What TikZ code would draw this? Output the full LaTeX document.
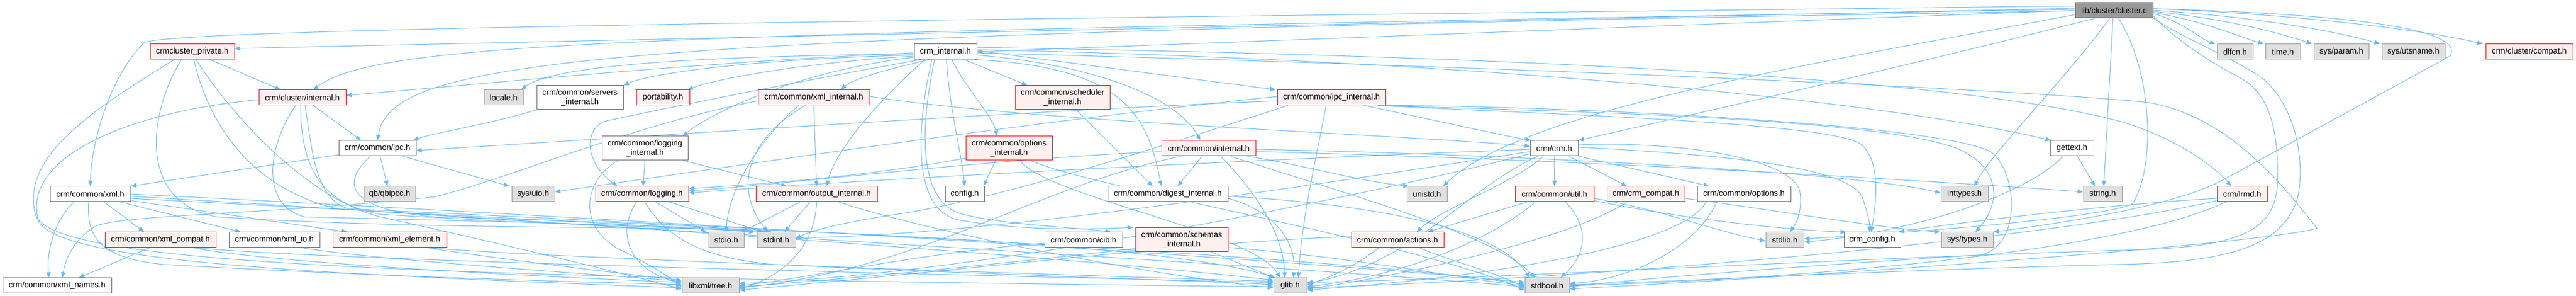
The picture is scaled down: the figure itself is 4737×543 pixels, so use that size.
\documentclass[tikz,border=0pt]{standalone}
\usepackage{fontspec}
\setmainfont{Liberation Sans}
\usetikzlibrary{arrows.meta}
\pgfdeclarelayer{bg}
\pgfsetlayers{bg,main}
\definecolor{edgeblue}{HTML}{63B8FF}
\definecolor{nodegray}{HTML}{666666}
\definecolor{sysfill}{HTML}{E0E0E0}
\definecolor{sysdraw}{HTML}{999999}
\definecolor{redfill}{HTML}{FFF0F0}
\definecolor{reddraw}{HTML}{FF0000}
\definecolor{rootfill}{HTML}{999999}
\tikzset{
  basenode/.style={draw, line width=1pt, minimum height=28pt, inner sep=0pt, align=center,
    font=\fontsize{14.8}{17}\selectfont, text=black},
  wnode/.style={basenode, fill=white, draw=nodegray},
  gnode/.style={basenode, fill=sysfill, draw=sysdraw},
  rnode/.style={basenode, fill=redfill, draw=reddraw},
  rootnode/.style={basenode, fill=rootfill, draw=nodegray},
  tallnode/.style={minimum height=44pt},
  dep/.style={draw=edgeblue, line width=1pt, -{Triangle[length=10pt,width=8pt]}},
}
\begin{document}
\begin{tikzpicture}[x=1pt,y=1pt]
\useasboundingbox (0,0) rectangle (4737,543);
% row 0
\node[rootnode, minimum width=143pt] (R) at (3887.5,524) {lib/cluster/cluster.c};
% row 1
\node[rnode, minimum width=155pt] (cp) at (353.5,448) {crmcluster\_private.h};
\node[wnode, minimum width=115pt] (ci) at (1738.5,448) {crm\_internal.h};
\node[gnode, minimum width=66pt] (dlfcn) at (4110,448) {dlfcn.h};
\node[gnode, minimum width=64pt] (time) at (4198,448) {time.h};
\node[gnode, minimum width=101pt] (sysparam) at (4305.5,448) {sys/param.h};
\node[gnode, minimum width=116pt] (utsname) at (4438,448) {sys/utsname.h};
\node[rnode, minimum width=160pt] (clcompat) at (4651,448) {crm/cluster/compat.h};
% row 2
\node[rnode, minimum width=160pt] (cli) at (556,364) {crm/cluster/internal.h};
\node[gnode, minimum width=72pt] (locale) at (926,364) {locale.h};
\node[wnode, tallnode, minimum width=159pt] (servers) at (1066.5,364) {crm/common/servers\\\_internal.h};
\node[rnode, minimum width=98pt] (portability) at (1219,364) {portability.h};
\node[rnode, minimum width=205pt] (xmlint) at (1496.5,364) {crm/common/xml\_internal.h};
\node[rnode, tallnode, minimum width=174pt] (sched) at (1954,364) {crm/common/scheduler\\\_internal.h};
\node[rnode, minimum width=199pt] (ipcint) at (2448.5,364) {crm/common/ipc\_internal.h};
% row 3
\node[wnode, minimum width=142pt] (ipc) at (694,271) {crm/common/ipc.h};
\node[wnode, tallnode, minimum width=158pt] (logint) at (1186,271) {crm/common/logging\\\_internal.h};
\node[rnode, tallnode, minimum width=159pt] (optint) at (1855.5,271) {crm/common/options\\\_internal.h};
\node[rnode, minimum width=173pt] (cmnint) at (2222.5,271) {crm/common/internal.h};
\node[wnode, minimum width=88pt] (crm) at (2858,271) {crm/crm.h};
\node[wnode, minimum width=80pt] (gettext) at (3810,271) {gettext.h};
% row 4
\node[wnode, minimum width=148pt] (xml) at (166,187) {crm/common/xml.h};
\node[gnode, minimum width=95pt] (qb) at (716.5,187) {qb/qbipcc.h};
\node[gnode, minimum width=79pt] (uio) at (980.5,187) {sys/uio.h};
\node[rnode, minimum width=171pt] (logging) at (1180.5,187) {crm/common/logging.h};
\node[rnode, minimum width=223pt] (outint) at (1501.5,187) {crm/common/output\_internal.h};
\node[wnode, minimum width=72pt] (config) at (1774,187) {config.h};
\node[wnode, minimum width=221pt] (digest) at (2147.5,187) {crm/common/digest\_internal.h};
\node[gnode, minimum width=74pt] (unistd) at (2624,187) {unistd.h};
\node[rnode, minimum width=145pt] (util) at (2858.5,187) {crm/common/util.h};
\node[rnode, minimum width=143pt] (compat) at (3026.5,187) {crm/crm\_compat.h};
\node[wnode, minimum width=172pt] (options) at (3207,187) {crm/common/options.h};
\node[gnode, minimum width=87pt] (inttypes) at (3612.5,187) {inttypes.h};
\node[gnode, minimum width=71pt] (string) at (3866.5,187) {string.h};
\node[rnode, minimum width=92pt] (lrmd) at (4123,187) {crm/lrmd.h};
% row 5
\node[rnode, minimum width=204pt] (xmlcompat) at (295,103) {crm/common/xml\_compat.h};
\node[wnode, minimum width=167pt] (xmlio) at (504.5,103) {crm/common/xml\_io.h};
\node[rnode, minimum width=209pt] (xmlelem) at (716.5,103) {crm/common/xml\_element.h};
\node[gnode, minimum width=65pt] (stdio) at (1335.5,103) {stdio.h};
\node[gnode, minimum width=71pt] (stdint) at (1427.5,103) {stdint.h};
\node[wnode, minimum width=143pt] (cib) at (1992.5,103) {crm/common/cib.h};
\node[rnode, tallnode, minimum width=170pt] (schemas) at (2173,103) {crm/common/schemas\\\_internal.h};
\node[rnode, minimum width=170pt] (actions) at (2570,103) {crm/common/actions.h};
\node[gnode, minimum width=70pt] (stdlib) at (3282,103) {stdlib.h};
\node[wnode, minimum width=104pt] (crmconfig) at (3443,103) {crm\_config.h};
\node[gnode, minimum width=95pt] (systypes) at (3617.5,103) {sys/types.h};
% row 6
\node[wnode, minimum width=200pt] (xmlnames) at (105,19) {crm/common/xml\_names.h};
\node[gnode, minimum width=105pt] (libxml) at (1306.5,19) {libxml/tree.h};
\node[gnode, minimum width=61pt] (glib) at (2372.5,19) {glib.h};
\node[gnode, minimum width=82pt] (stdbool) at (2845,19) {stdbool.h};

\begin{pgfonlayer}{bg}
\fill[white] (0,0) rectangle (4737,543);
% ---- root
\draw[dep] (R.west) -- (ci.east);
\draw[dep] ([yshift=-6pt]R.east) .. controls (4010,505) and (4050,470) .. ([xshift=-3pt]dlfcn.north west);
\draw[dep] ([yshift=-4pt]R.east) .. controls (4050,505) and (4120,475) .. ([xshift=-3pt]time.north west);
\draw[dep] ([yshift=-2pt]R.east) .. controls (4100,508) and (4200,480) .. ([xshift=-3pt]sysparam.north west);
\draw[dep] (R.east) .. controls (4150,512) and (4300,485) .. ([xshift=-3pt]utsname.north west);
\draw[dep] ([yshift=3pt]R.east) .. controls (4200,518) and (4450,490) .. ([xshift=-5pt]clcompat.north west);
\draw[dep] ([yshift=4pt]R.west) -- ([yshift=6pt]cp.east);
\draw[dep] ([yshift=2pt]R.west) .. controls (1200,480) and (700,470) .. ([xshift=20pt]cli.north);
\draw[dep] ([yshift=-1pt]R.west) .. controls (1100,478) and (720,440) .. (ipc.north);
\draw[dep] ([yshift=8pt]R.west) .. controls (1500,505) and (330,490) .. (265,465) .. controls (200,400) and (168,280) .. (xml.north);
\draw[dep] ([xshift=-35pt]R.south) .. controls (3500,420) and (3100,330) .. (crm.north east);
\draw[dep] ([yshift=-8pt]R.west) .. controls (3300,420) and (2800,340) .. ([xshift=-8pt]unistd.north east);
\draw[dep] ([xshift=-8pt]R.south) .. controls (3800,400) and (3660,260) .. ([xshift=18pt]inttypes.north);
\draw[dep] ([xshift=-2pt]R.south) -- ([xshift=2pt]string.north);
\draw[dep] ([xshift=8pt]R.south) .. controls (3965,400) and (3960,220) .. (3920,168) .. controls (3850,140) and (3450,112) .. ([yshift=2pt]stdlib.east);
\draw[dep] ([yshift=3pt]R.east) .. controls (4400,515) and (4530,480) .. (4505,440) -- (4090,214) .. controls (4000,165) and (3800,135) .. (systypes.north east);
\draw[dep] ([yshift=-10pt]R.east) .. controls (4000,470) and (4070,425) .. (4120,400) .. controls (4175,370) and (4190,300) .. (4188,210) .. controls (4186,110) and (4100,88) .. (3900,84) .. controls (3300,65) and (2700,30) .. ([yshift=6pt]glib.east);
\draw[dep] ([yshift=-14pt]R.east) .. controls (4000,480) and (4100,440) .. (4160,400) .. controls (4220,350) and (4240,250) .. (4225,180) .. controls (4200,100) and (4120,62) .. (3900,58) .. controls (3400,45) and (3050,25) .. ([yshift=2pt]stdbool.east);
% ---- crm_internal.h
\draw[dep] ([yshift=-4pt]ci.west) .. controls (1300,440) and (1020,425) .. ([xshift=-4pt]locale.north east);
\draw[dep] ([yshift=-6pt]ci.west) .. controls (1400,435) and (1200,410) .. (servers.north east);
\draw[dep] ([yshift=-8pt]ci.west) .. controls (1500,430) and (1320,400) .. ([xshift=-4pt]portability.north east);
\draw[dep] ([yshift=-2pt]ci.west) .. controls (1300,430) and (900,390) .. ([yshift=4pt]cli.east);
\draw[dep] ([xshift=-30pt]ci.south) .. controls (1650,420) and (1570,400) .. ([xshift=50pt]xmlint.north);
\draw[dep] ([yshift=-10pt]ci.west) .. controls (1450,410) and (1300,330) .. ([xshift=-10pt]logint.north east);
\draw[dep] ([xshift=-45pt]ci.south) .. controls (1500,400) and (1200,340) .. (1110,320) .. controls (1070,300) and (1080,240) .. ([xshift=-45pt]logging.north);
\draw[dep] ([xshift=-38pt]ci.south) .. controls (1640,380) and (1540,280) .. ([xshift=18pt]outint.north);
\draw[dep] ([xshift=2pt]ci.south) .. controls (1745,350) and (1768,260) .. (config.north);
\draw[dep] ([xshift=12pt]ci.south) .. controls (1770,390) and (1825,330) .. ([xshift=-22pt]optint.north);
\draw[dep] ([xshift=35pt]ci.south) -- ([xshift=-65pt]sched.north);
\draw[dep] ([xshift=55pt]ci.south) .. controls (2070,420) and (2110,330) .. ([xshift=-12pt]digest.north);
\draw[dep] ([yshift=-6pt]ci.east) .. controls (2000,425) and (2160,370) .. ([xshift=-15pt]cmnint.north);
\draw[dep] ([yshift=2pt]ci.east) -- ([xshift=-3pt]ipcint.north west);
\draw[dep] ([yshift=4pt]ci.east) .. controls (2800,430) and (3500,350) .. ([xshift=2pt]gettext.north west);
\draw[dep] ([yshift=8pt]ci.east) .. controls (2800,440) and (3600,400) .. (3900,320) .. controls (4000,290) and (4070,240) .. ([xshift=-20pt]lrmd.north);
\draw[dep] ([yshift=-2pt]ci.east) .. controls (2800,420) and (3700,380) .. (3950,355) .. controls (4100,330) and (4200,200) .. (4261,124) .. controls (4150,95) and (3400,40) .. ([yshift=-6pt]stdbool.east);
\draw[dep] ([xshift=-20pt]ci.south) .. controls (1690,300) and (1690,170) .. (1770,150) .. controls (1850,130) and (1990,125) .. ([xshift=50pt]cib.north);
\draw[dep] ([xshift=-25pt]ci.south) .. controls (1683,300) and (1680,160) .. (1760,140) .. controls (1900,115) and (2050,125) .. ([xshift=-4pt]schemas.north west);
% ---- crmcluster_private.h
\draw[dep] ([xshift=33pt]cp.south) -- ([xshift=-40pt]cli.north);
\draw[dep] ([xshift=-33pt]cp.south) .. controls (150,330) and (40,250) .. (65,150) .. controls (90,60) and (700,35) .. ([yshift=-2pt]glib.west);
\draw[dep] ([xshift=-20pt]cp.south) .. controls (270,330) and (255,170) .. (400,145) .. controls (800,120) and (1250,130) .. ([xshift=-8pt]stdint.north);
\draw[dep] ([xshift=3pt]cp.south) .. controls (380,330) and (450,200) .. (620,160) .. controls (1200,120) and (2300,60) .. ([yshift=-2pt]stdbool.west);
\draw[dep] ([xshift=7pt]cp.south) .. controls (420,340) and (560,180) .. (700,145) .. controls (950,90) and (1150,40) .. ([yshift=-6pt]libxml.west);
% ---- crm/cluster/internal.h
\draw[dep] ([xshift=20pt]cli.south) -- ([xshift=-30pt]ipc.north);
\draw[dep] ([yshift=-4pt]cli.west) .. controls (250,340) and (40,260) .. (70,140) .. controls (100,60) and (600,40) .. ([yshift=-4pt]libxml.west);
\draw[dep] ([xshift=-12pt]cli.south) .. controls (500,290) and (470,170) .. (560,145) .. controls (1200,130) and (2100,110) .. ([xshift=4pt]glib.north west);
\draw[dep] ([xshift=-3pt]cli.south) .. controls (553,250) and (580,170) .. (700,150) .. controls (1000,130) and (1300,125) .. ([xshift=-12pt]stdint.north);
\draw[dep] ([xshift=5pt]cli.south) .. controls (575,260) and (580,180) .. (640,160) .. controls (1400,125) and (2500,70) .. ([yshift=2pt]stdbool.west);
% ---- crm/common/ipc.h
\draw[dep] ([yshift=-12pt]ipc.west) -- (xml.north east);
\draw[dep] ([xshift=5pt]ipc.south) -- ([xshift=-4pt]qb.north);
\draw[dep] ([xshift=46pt]ipc.south) -- ([xshift=-4pt]uio.north west);
\draw[dep] ([xshift=-13pt]ipc.south) .. controls (630,210) and (630,160) .. (800,145) .. controls (1000,140) and (1300,130) .. ([xshift=-22pt]stdint.north);
% ---- crm/common/xml.h
\draw[dep] ([xshift=-30pt]xml.south) .. controls (100,140) and (85,80) .. ([xshift=-15pt]xmlnames.north);
\draw[dep] ([xshift=25pt]xml.south) -- ([xshift=-30pt]xmlcompat.north);
\draw[dep] ([xshift=55pt]xml.south) -- ([xshift=-62pt]xmlio.north);
\draw[dep] ([yshift=-12pt]xml.east) -- ([xshift=-78pt]xmlelem.north);
\draw[dep] ([xshift=-3pt]xml.south) .. controls (160,120) and (170,70) .. (300,58) .. controls (700,35) and (1100,25) .. ([yshift=2pt]libxml.west);
\draw[dep] ([yshift=-8pt]xml.east) .. controls (600,160) and (1100,135) .. ([xshift=-4pt]stdint.north west);
\draw[dep] ([yshift=-4pt]xml.east) .. controls (800,150) and (1900,80) .. ([yshift=10pt]glib.west);
\draw[dep] (xml.east) .. controls (900,155) and (2300,75) .. ([yshift=6pt]stdbool.west);
% ---- xml sub-headers
\draw[dep] ([xshift=-20pt]xmlcompat.south) -- ([xshift=40pt]xmlnames.north);
\draw[dep] ([xshift=60pt]xmlcompat.south) .. controls (500,60) and (1000,35) .. ([yshift=6pt]libxml.west);
\draw[dep] ([xshift=65pt]xmlcompat.south) .. controls (600,65) and (1700,40) .. ([yshift=6pt]glib.west);
\draw[dep] ([xshift=50pt]xmlio.south) .. controls (700,65) and (1100,40) .. ([yshift=8pt]libxml.west);
\draw[dep] ([xshift=70pt]xmlelem.south) .. controls (900,70) and (1150,40) .. ([yshift=10pt]libxml.west);
\draw[dep] ([xshift=72pt]xmlelem.south) .. controls (1000,70) and (1900,40) .. ([yshift=8pt]glib.west);
% ---- servers / ipc_internal
\draw[dep] (servers.south west) .. controls (900,315) and (800,300) .. ([xshift=-6pt]ipc.north east);
\draw[dep] ([yshift=-6pt]ipcint.west) .. controls (1900,340) and (1300,300) .. ([yshift=-4pt]ipc.east);
\draw[dep] ([yshift=2pt]ipcint.west) .. controls (1900,320) and (1500,260) .. ([yshift=4pt]uio.east);
\draw[dep] ([xshift=60pt]ipcint.south) .. controls (2650,320) and (2760,295) .. ([xshift=2pt]crm.north west);
\draw[dep] ([xshift=-80pt]ipcint.south) .. controls (2150,280) and (1850,180) .. (1650,150) .. controls (1550,135) and (1490,120) .. ([yshift=2pt]stdint.east);
\draw[dep] ([xshift=-10pt]ipcint.south) .. controls (2420,250) and (2395,150) .. ([xshift=15pt]glib.north);
\draw[dep] ([xshift=90pt]ipcint.south) .. controls (2800,340) and (3450,330) .. (3600,270) .. controls (3680,235) and (3680,170) .. ([xshift=15pt]systypes.north);
\draw[dep] ([xshift=85pt]ipcint.south) .. controls (2800,335) and (3350,320) .. (3420,280) .. controls (3460,250) and (3450,170) .. ([xshift=-2pt]crmconfig.north);
\draw[dep] ([xshift=95pt]ipcint.south) .. controls (2800,350) and (3550,320) .. (3660,265) .. controls (3710,230) and (3720,90) .. (3640,75) .. controls (3300,55) and (3000,30) .. ([yshift=-2pt]stdbool.east);
% ---- xml_internal.h
\draw[dep] (xmlint.south) -- (outint.north);
\draw[dep] ([xshift=-28pt]xmlint.south) .. controls (1400,290) and (1340,200) .. (stdio.north);
\draw[dep] ([xshift=-15pt]xmlint.south) .. controls (1390,300) and (1340,210) .. ([xshift=-16pt]stdint.north);
\draw[dep] ([yshift=-6pt]xmlint.west) .. controls (1150,310) and (950,220) .. (800,182) .. controls (500,150) and (250,150) .. (180,130) .. controls (140,110) and (120,70) .. ([xshift=10pt]xmlnames.north);
\draw[dep] ([yshift=2pt]xmlint.east) .. controls (1900,320) and (2500,300) .. ([yshift=4pt]crm.west);
% ---- logging_internal.h / logging.h / output_internal.h
\draw[dep] (logint.south) -- ([xshift=2pt]logging.north);
\draw[dep] ([xshift=70pt]logint.south) -- ([xshift=-55pt]outint.north);
\draw[dep] ([xshift=-50pt]logint.south) .. controls (1070,210) and (1060,120) .. (1150,80) .. controls (1200,55) and (1230,35) .. ([yshift=-2pt]libxml.west);
\draw[dep] ([xshift=25pt]logging.south) -- ([xshift=-4pt]stdio.north west);
\draw[dep] ([xshift=50pt]logging.south) -- ([xshift=-25pt]stdint.north);
\draw[dep] ([xshift=-10pt]logging.south) .. controls (1135,120) and (1150,50) .. ([yshift=4pt]libxml.west);
\draw[dep] ([xshift=5pt]logging.south) .. controls (1230,100) and (1300,70) .. (1420,58) .. controls (1800,40) and (2200,28) .. ([yshift=2pt]glib.west);
\draw[dep] ([xshift=-30pt]outint.south) -- ([xshift=-4pt]stdio.north east);
\draw[dep] ([xshift=-12pt]outint.south) -- ([xshift=15pt]stdint.north);
\draw[dep] (outint.south) .. controls (1500,100) and (1450,40) .. ([yshift=-6pt]libxml.east);
\draw[dep] ([xshift=40pt]outint.south) .. controls (1700,120) and (2100,40) .. ([yshift=-4pt]glib.west);
% ---- options_internal.h / scheduler_internal.h
\draw[dep] ([xshift=-25pt]optint.south) -- ([xshift=-2pt]config.north east);
\draw[dep] ([yshift=-18pt]optint.west) .. controls (1600,220) and (1400,205) .. ([yshift=10pt]logging.east);
\draw[dep] ([xshift=20pt]optint.south) .. controls (1930,180) and (2300,120) .. ([xshift=-18pt]glib.north);
\draw[dep] ([xshift=40pt]optint.south) .. controls (2000,200) and (2600,100) .. ([yshift=-8pt]stdbool.west);
\draw[dep] ([xshift=25pt]sched.south) -- ([xshift=-28pt]digest.north);
% ---- crm/common/internal.h
\draw[dep] ([xshift=-12pt]cmnint.south) -- ([xshift=18pt]digest.north);
\draw[dep] ([yshift=-6pt]cmnint.west) .. controls (1800,250) and (1450,205) .. ([yshift=6pt]logging.east);
\draw[dep] ([xshift=22pt]cmnint.south) .. controls (2300,200) and (2360,120) .. ([xshift=-10pt]glib.north);
\draw[dep] ([xshift=40pt]cmnint.south) .. controls (2500,180) and (2750,110) .. ([xshift=-22pt]stdbool.north);
\draw[dep] ([xshift=70pt]cmnint.south) .. controls (2400,240) and (2500,210) .. ([xshift=4pt]unistd.north west);
\draw[dep] ([xshift=-50pt]cmnint.south) .. controls (1900,200) and (1700,50) .. ([yshift=-4pt]libxml.east);
\draw[dep] ([yshift=-2pt]cmnint.east) .. controls (2700,262) and (3400,230) .. ([yshift=2pt]inttypes.west);
\draw[dep] ([yshift=-6pt]cmnint.east) .. controls (2900,250) and (3500,215) .. ([yshift=4pt]string.west);
% ---- digest_internal.h
\draw[dep] ([yshift=-8pt]digest.east) .. controls (2330,160) and (2385,110) .. ([xshift=6pt]glib.north);
\draw[dep] ([yshift=-4pt]digest.east) .. controls (2500,170) and (2750,130) .. ([xshift=-32pt]stdbool.north);
% ---- crm/crm.h
\draw[dep] (crm.south) -- (util.north);
\draw[dep] ([xshift=27pt]crm.south) -- ([xshift=-35pt]compat.north);
\draw[dep] (crm.south east) -- ([xshift=-64pt]options.north);
\draw[dep] ([xshift=-20pt]crm.south) .. controls (2790,210) and (2650,160) .. ([xshift=35pt]actions.north);
\draw[dep] ([xshift=-30pt]crm.south) .. controls (2700,200) and (2600,60) .. ([yshift=4pt]glib.east);
\draw[dep] ([yshift=-2pt]crm.west) .. controls (2300,250) and (1600,215) .. ([yshift=2pt]logging.east);
\draw[dep] ([yshift=-6pt]crm.west) .. controls (2400,200) and (1800,110) .. ([yshift=4pt]stdint.east);
\draw[dep] ([yshift=-10pt]crm.west) .. controls (2500,180) and (1800,40) .. ([yshift=4pt]libxml.east);
\draw[dep] ([yshift=6pt]crm.east) .. controls (3100,285) and (3300,250) .. (3310,190) .. controls (3315,150) and (3300,130) .. ([xshift=10pt]stdlib.north);
\draw[dep] ([yshift=2pt]crm.east) .. controls (3150,260) and (3400,240) .. (3425,180) .. controls (3435,150) and (3438,135) .. ([xshift=-5pt]crmconfig.north);
% ---- util.h / crm_compat.h / options.h / actions.h
\draw[dep] ([xshift=-50pt]util.south) -- ([xshift=55pt]actions.north);
\draw[dep] ([xshift=-35pt]util.south) .. controls (2750,110) and (2600,40) .. ([yshift=-2pt]glib.east);
\draw[dep] ([xshift=20pt]util.south) .. controls (2930,120) and (2910,70) .. ([xshift=25pt]stdbool.north);
\draw[dep] ([yshift=-8pt]util.east) .. controls (3050,160) and (3150,120) .. ([yshift=-2pt]stdlib.west);
\draw[dep] ([yshift=-12pt]util.east) .. controls (3100,140) and (3300,120) .. ([xshift=4pt]crmconfig.north west);
\draw[dep] ([xshift=-35pt]compat.south) .. controls (2900,110) and (2600,40) .. ([yshift=-6pt]glib.east);
\draw[dep] ([yshift=-8pt]compat.east) .. controls (3250,160) and (3450,125) .. ([xshift=-2pt]systypes.north west);
\draw[dep] ([xshift=-70pt]options.south) .. controls (3100,100) and (2800,40) .. ([yshift=-8pt]glib.east);
\draw[dep] ([xshift=-50pt]options.south) .. controls (3120,90) and (3000,30) .. ([yshift=4pt]stdbool.east);
\draw[dep] ([xshift=-35pt]actions.south) .. controls (2500,60) and (2450,35) .. ([yshift=2pt]glib.east);
\draw[dep] ([xshift=40pt]actions.south) .. controls (2650,70) and (2760,40) .. ([yshift=-4pt]stdbool.west);
\draw[dep] ([yshift=6pt]actions.west) .. controls (2200,100) and (1700,40) .. ([yshift=-8pt]libxml.east);
% ---- cib.h / schemas_internal.h
\draw[dep] ([yshift=-6pt]cib.west) .. controls (1700,80) and (1500,35) .. (libxml.east);
\draw[dep] ([xshift=55pt]schemas.south) -- ([xshift=2pt]glib.north west);
\draw[dep] ([yshift=-16pt]schemas.west) .. controls (1850,60) and (1550,30) .. ([yshift=-2pt]libxml.east);
\draw[dep] ([yshift=-14pt]schemas.east) .. controls (2500,70) and (2700,30) .. (stdbool.west);
% ---- gettext.h / lrmd.h
\draw[dep] ([xshift=10pt]gettext.south) -- ([xshift=-14pt]string.north);
\draw[dep] ([xshift=-16pt]gettext.south) .. controls (3720,180) and (3500,115) .. ([yshift=-4pt]stdlib.east);
\draw[dep] ([yshift=-8pt]lrmd.west) .. controls (3900,170) and (3600,135) .. ([xshift=-4pt]crmconfig.north east);
\draw[dep] ([yshift=-12pt]lrmd.west) .. controls (3800,110) and (3000,35) .. ([yshift=-4pt]glib.east);
\draw[dep] ([xshift=-30pt]lrmd.south) .. controls (3900,80) and (3300,30) .. (stdbool.east);
\end{pgfonlayer}
\end{tikzpicture}
\end{document}
